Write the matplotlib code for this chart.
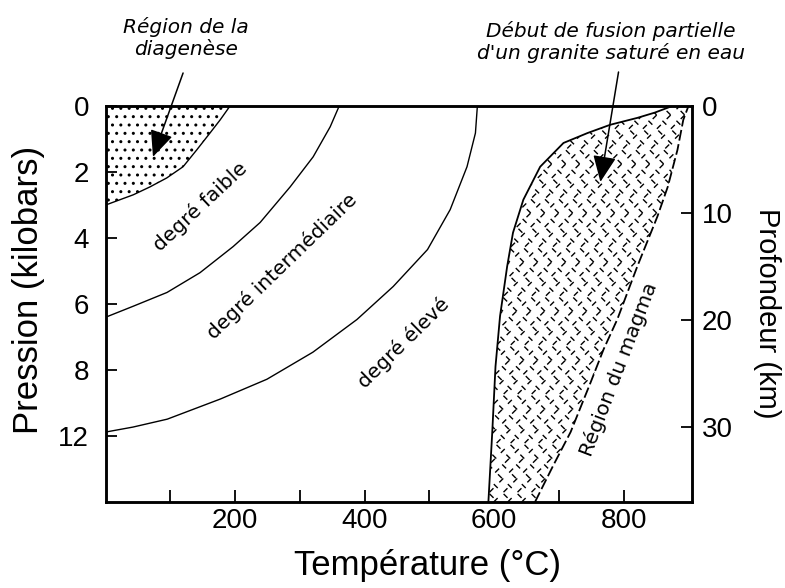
import numpy as np
import matplotlib
matplotlib.use("Agg")
import matplotlib.pyplot as plt
from matplotlib.patches import Polygon
from matplotlib.collections import LineCollection

plt.rcParams['font.family'] = ['Liberation Sans', 'DejaVu Sans']

# ---------------- data (temperature °C, pressure kbar) ----------------
diag_T = [192, 176.8, 161, 140.6, 119.5, 94.3, 68.5, 42.7, 22, 0]
diag_P = [0, 0.42, 0.82, 1.33, 1.84, 2.18, 2.45, 2.69, 2.84, 3.0]

low_T = [360.6, 346.7, 320.4, 284.9, 238.5, 196.8, 145.7, 94.7, 42.2, 0]
low_P = [0, 0.63, 1.54, 2.45, 3.53, 4.26, 5.05, 5.65, 6.07, 6.4]

high_T = [574, 571, 558, 532, 497, 444, 388, 320, 249, 177, 95, 42, 0]
high_P = [0, 0.82, 1.84, 3.14, 4.35, 5.47, 6.47, 7.46, 8.28, 8.88, 9.49, 9.73, 9.88]

solidus_T = [591, 597, 602, 609, 620, 629, 645, 671, 707, 744, 779, 821, 848, 875]
solidus_P = [12, 9.88, 7.89, 6.37, 4.86, 3.84, 2.84, 1.84, 1.12, 0.82, 0.57, 0.36, 0.2, 0]

magma_T = [663, 691, 718, 749, 769, 790, 821, 852, 868, 883, 892, 900]
magma_P = [12, 10.9, 9.88, 8.37, 7.37, 6.47, 4.86, 3.35, 2.45, 1.33, 0.42, 0]

x_ticks = [100, 200, 300, 400, 500, 600, 700, 800]
x_ticklabels = ['', '200', '', '400', '', '600', '', '800']
y_ticks = [0, 2, 4, 6, 8, 10]
y_ticklabels = ['0', '2', '4', '6', '8', '12']
depth_ticks = [0, 10, 20, 30]
km_per_kbar = 10 / 3.24

# ---------------- figure ----------------
W, H = 785, 588
fig = plt.figure(figsize=(W / 100, H / 100), dpi=100)
ax_l, ax_r, ax_t, ax_b = 105.7, 691.7, 106, 502
ax = fig.add_axes([ax_l / W, 1 - ax_b / H, (ax_r - ax_l) / W, (ax_b - ax_t) / H])
ax.set_xlim(0, 905)
ax.set_ylim(12, 0)

for s in ax.spines.values():
    s.set_linewidth(1.8)

# diagenesis region (dotted)
diag_poly = Polygon([(0, 0)] + list(zip(diag_T, diag_P)), closed=True,
                    facecolor='none', edgecolor='black', linewidth=0, hatch='..')
ax.add_patch(diag_poly)
ax.plot(diag_T, diag_P, color='black', lw=1.0)
ax.plot(low_T, low_P, color='black', lw=1.0)
ax.plot(high_T, high_P, color='black', lw=1.0)

# magma region
verts = list(zip(solidus_T, solidus_P)) + list(zip(magma_T[::-1], magma_P[::-1]))
mag_poly = Polygon(verts, closed=True, facecolor='none', edgecolor='none', linewidth=0)
ax.add_patch(mag_poly)
ax.plot(solidus_T, solidus_P, color='black', lw=1.3)
ax.plot(magma_T, magma_P, color='black', lw=1.3, linestyle=(0, (6, 2)))

# dashed cross hatching (decoration, clipped to the magma polygon)
Wp, Hp = ax_r - ax_l, ax_b - ax_t
step = 14.0
segs_a, segs_b = [], []
for c in np.arange(-Hp, Wp + Hp, step):
    segs_a.append([((c) / Wp, 0), ((c + Hp) / Wp, 1)])
    segs_b.append([((c) / Wp, 1), ((c + Hp) / Wp, 0)])
for segs, off in ((segs_a, 0), (segs_b, 5)):
    lc = LineCollection(segs, colors='black', linewidths=1.0,
                        linestyles=[(off, (4, 6))], transform=ax.transAxes)
    ax.add_collection(lc)
    lc.set_clip_path(mag_poly)

# ticks
ax.set_xticks(x_ticks)
ax.set_xticklabels(x_ticklabels)
ax.set_yticks(y_ticks)
ax.set_yticklabels(y_ticklabels)
ax.tick_params(axis='x', direction='in', length=9, width=1.3, pad=4, labelsize=20)
ax.tick_params(axis='y', direction='in', length=8, width=1.3, pad=12, labelsize=20)
ax.xaxis.get_major_ticks()[5].tick1line.set_visible(False)

ax2 = ax.twinx()
ax2.set_ylim(12 * km_per_kbar, 0)
ax2.set_yticks(depth_ticks)
ax2.set_yticklabels([str(d) for d in depth_ticks])
ax2.tick_params(axis='y', direction='in', length=8, width=1.3, pad=7, labelsize=20)
ax2.yaxis.get_major_ticks()[0].tick2line.set_visible(False)
for s in ax2.spines.values():
    s.set_linewidth(1.8)

# axis labels
fig.text(428 / W, 1 - 566 / H, 'Température (°C)', ha='center', va='center', fontsize=25)
fig.text(29 / W, 1 - 290 / H, 'Pression (kilobars)', ha='center', va='center',
         rotation=90, fontsize=25)
fig.text(767 / W, 1 - 313 / H, 'Profondeur (km)', ha='center', va='center',
         rotation=270, fontsize=21)

# annotations
ann_font = dict(family=['DejaVu Sans'], style='italic', fontsize=14.5)
fig.text(186 / W, 1 - 38 / H, 'Région de la\ndiagenèse', ha='center', va='center',
         linespacing=1.15, **ann_font)
fig.text(611 / W, 1 - 42 / H, "Début de fusion partielle\nd'un granite saturé en eau",
         ha='center', va='center', linespacing=1.15, **ann_font)

arrow_kw = dict(arrowstyle='-|>,head_length=0.9,head_width=0.4', color='black', lw=1.1,
                shrinkA=0, shrinkB=0, mutation_scale=18)
ax.annotate('', xy=(73, 1.54), xytext=(119.5, -1.0), arrowprops=arrow_kw,
            annotation_clip=False)
ax.annotate('', xy=(764, 2.3), xytext=(792, -1.03), arrowprops=arrow_kw,
            annotation_clip=False)

lab_font = dict(family=['DejaVu Sans'], fontsize=14.5, ha='center', va='center',
                rotation_mode='anchor')
ax.text(146, 3.05, 'degré faible', rotation=43, **lab_font)
ax.text(272.6, 4.86, 'degré intermédiaire', rotation=44, **lab_font)
ax.text(459.6, 7.19, 'degré élevé', rotation=44.5, **lab_font)
ax.text(792, 7.98, 'Région du magma', rotation=69, **lab_font)

fig.savefig('out.png', dpi=100)
